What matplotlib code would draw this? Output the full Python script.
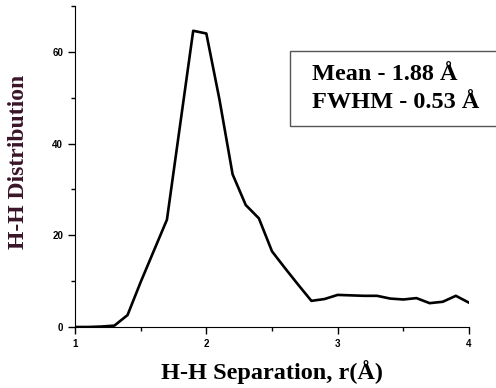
import matplotlib
matplotlib.use("Agg")
import matplotlib.pyplot as plt
from matplotlib.patches import Rectangle
from matplotlib.ticker import MultipleLocator

r_values = [1.0, 1.1, 1.2, 1.3, 1.4, 1.5, 1.6, 1.7, 1.8, 1.9, 2.0,
            2.1, 2.2, 2.3, 2.4, 2.5, 2.6, 2.7, 2.8, 2.9, 3.0,
            3.1, 3.2, 3.3, 3.4, 3.5, 3.6, 3.7, 3.8, 3.9, 4.0]
distribution = [0.0, 0.0, 0.1, 0.3, 2.6, 9.8, 16.6, 23.4, 44.0, 64.6, 64.0,
                49.6, 33.3, 26.6, 23.7, 16.5, 12.8, 9.2, 5.7, 6.1, 7.0,
                6.9, 6.8, 6.8, 6.2, 6.0, 6.3, 5.2, 5.5, 6.8, 5.3]
x_ticks = [1, 2, 3, 4]
y_ticks = [0, 20, 40, 60]
annotation_lines = ["Mean - 1.88 Å", "FWHM - 0.53 Å"]

fig = plt.figure(figsize=(4.96, 3.88), dpi=100)
ax = fig.add_axes([75/496, 61/388, (469-75)/496, (327-6)/388])
ax.plot(r_values, distribution, color="black", lw=1.9)
ax.set_xlim(1, 4)
ax.set_ylim(0, 70)
for s in ["top", "right"]:
    ax.spines[s].set_visible(False)
ax.set_xticks(x_ticks)
ax.set_yticks(y_ticks)
ax.xaxis.set_minor_locator(MultipleLocator(0.5))
ax.yaxis.set_minor_locator(MultipleLocator(10))
ax.tick_params(which="both", direction="out", width=1)
ax.tick_params(which="major", length=5, labelsize=7)
ax.tick_params(which="minor", length=3)
for lab in ax.get_xticklabels() + ax.get_yticklabels():
    lab.set_fontfamily("Liberation Sans")
    lab.set_fontweight("bold")

ax.set_xlabel("H-H Separation, r(Å)", fontsize=17.5, fontweight="bold",
              family="Liberation Serif", labelpad=8)
ax.set_ylabel("H-H Distribution", fontsize=17, fontweight="bold",
              family="Liberation Serif", color="#3a1528")
ax.yaxis.set_label_coords(-0.118, 0.515)

rect = Rectangle((290/496, (388-126)/388), 0.5, 75/388, transform=fig.transFigure,
                 facecolor="white", edgecolor="#555555", lw=1)
fig.patches.append(rect)
fig.text(312/496, (388-75)/388, annotation_lines[0], fontsize=17.5, fontweight="bold",
         family="Liberation Serif", va="center", ha="left")
fig.text(312/496, (388-103)/388, annotation_lines[1], fontsize=17.5, fontweight="bold",
         family="Liberation Serif", va="center", ha="left")

fig.savefig("out.png", dpi=100)
